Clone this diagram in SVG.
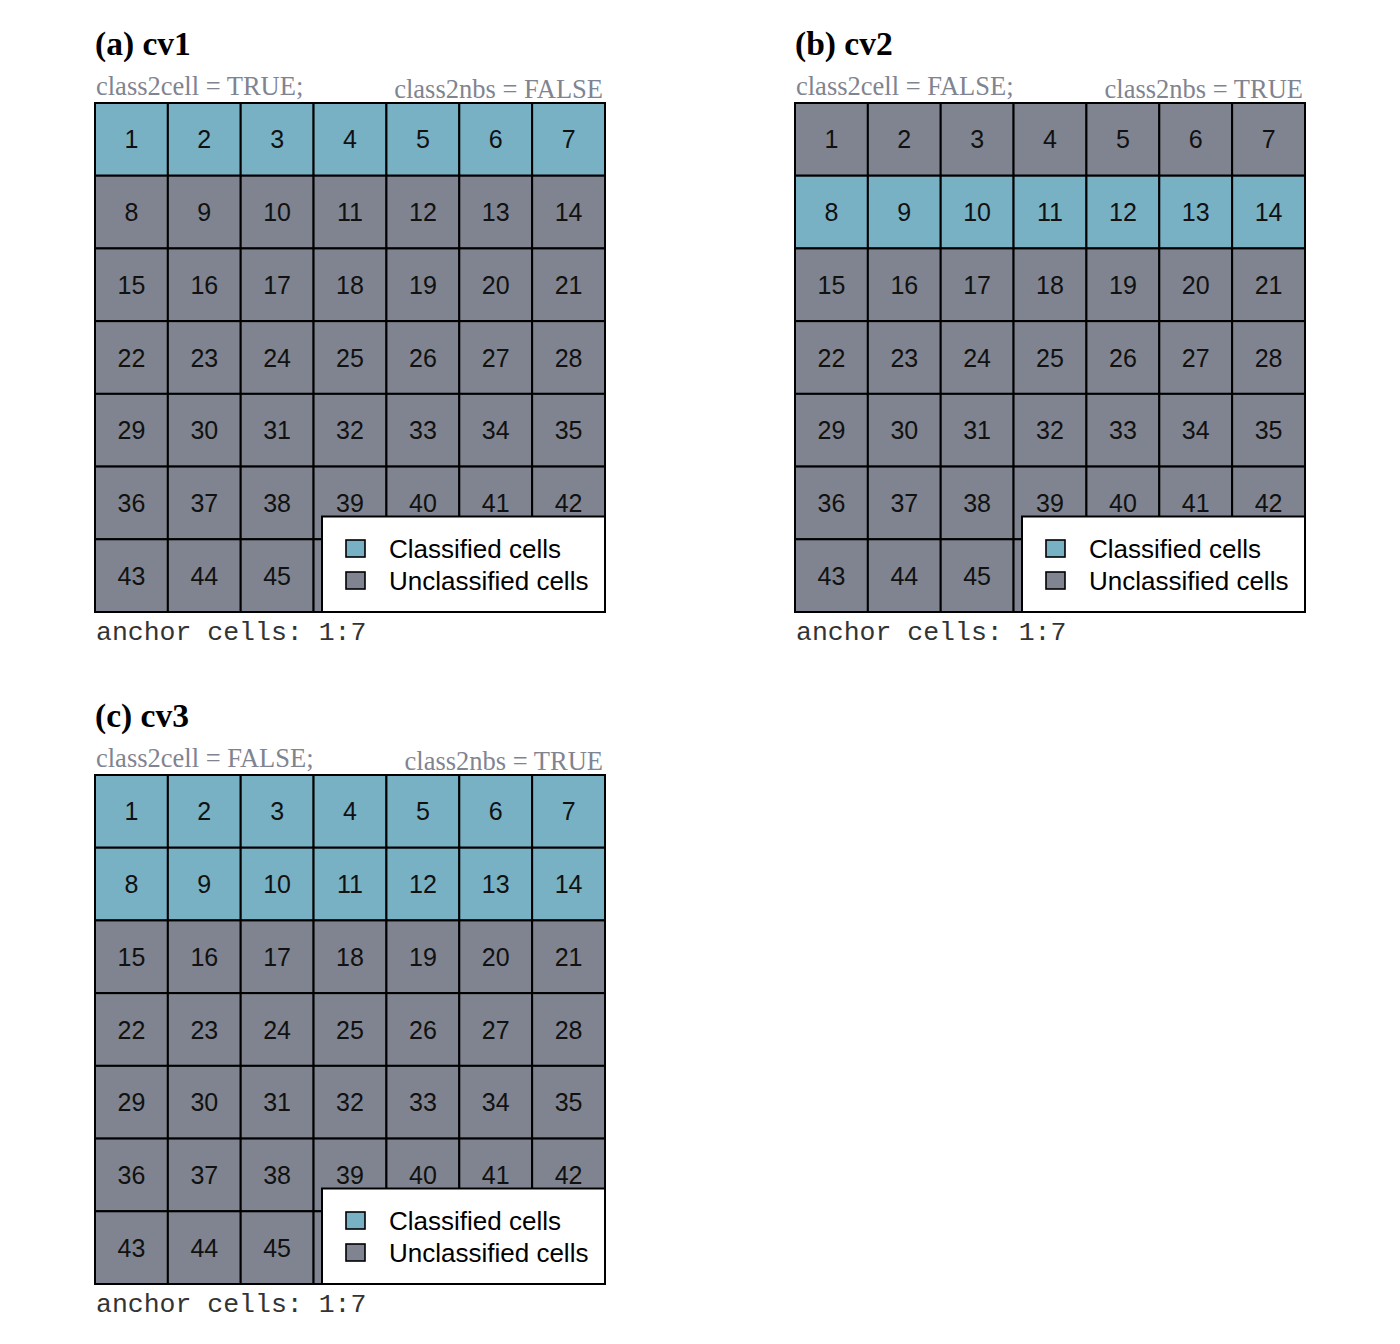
<svg xmlns="http://www.w3.org/2000/svg" xmlns:xlink="http://www.w3.org/1999/xlink" width="1400" height="1344" viewBox="0 0 1400 1344">
<style>
.title{font-family:"Liberation Serif","Times New Roman",serif;font-weight:bold;font-size:33.5px;fill:#000}
.sub{font-family:"Liberation Serif","Times New Roman",serif;font-size:26.5px;fill:#7f8490}
.b{fill:#78b0c4;stroke:#000;stroke-width:2}
.g{fill:#7f8490;stroke:#000;stroke-width:2}
.n{font-family:"Liberation Sans",Arial,sans-serif;font-size:25px;fill:#111;text-anchor:middle}
.leg{fill:#fff;stroke:#000;stroke-width:2}
.lb{fill:#78b0c4;stroke:#000;stroke-width:1.6}
.lg{fill:#7f8490;stroke:#000;stroke-width:1.6}
.lt{font-family:"Liberation Sans",Arial,sans-serif;font-size:26px;fill:#000}
.mono{font-family:"Liberation Mono","Courier New",monospace;font-size:26.5px;fill:#333}
</style>
<defs>
<g id="cols">
<rect x="95" width="72.86" height="72.71"/><rect x="167.86" width="72.86" height="72.71"/><rect x="240.71" width="72.86" height="72.71"/><rect x="313.57" width="72.86" height="72.71"/><rect x="386.43" width="72.86" height="72.71"/><rect x="459.29" width="72.86" height="72.71"/><rect x="532.14" width="72.86" height="72.71"/>
</g>
<g id="nums">
<text class="n" x="131.4" y="221.1">8</text><text class="n" x="204.3" y="221.1">9</text><text class="n" x="277.1" y="221.1">10</text><text class="n" x="350" y="221.1">11</text><text class="n" x="422.9" y="221.1">12</text><text class="n" x="495.7" y="221.1">13</text><text class="n" x="568.6" y="221.1">14</text>
<text class="n" x="131.4" y="293.8">15</text><text class="n" x="204.3" y="293.8">16</text><text class="n" x="277.1" y="293.8">17</text><text class="n" x="350" y="293.8">18</text><text class="n" x="422.9" y="293.8">19</text><text class="n" x="495.7" y="293.8">20</text><text class="n" x="568.6" y="293.8">21</text>
<text class="n" x="131.4" y="366.5">22</text><text class="n" x="204.3" y="366.5">23</text><text class="n" x="277.1" y="366.5">24</text><text class="n" x="350" y="366.5">25</text><text class="n" x="422.9" y="366.5">26</text><text class="n" x="495.7" y="366.5">27</text><text class="n" x="568.6" y="366.5">28</text>
<text class="n" x="131.4" y="439.2">29</text><text class="n" x="204.3" y="439.2">30</text><text class="n" x="277.1" y="439.2">31</text><text class="n" x="350" y="439.2">32</text><text class="n" x="422.9" y="439.2">33</text><text class="n" x="495.7" y="439.2">34</text><text class="n" x="568.6" y="439.2">35</text>
<text class="n" x="131.4" y="511.9">36</text><text class="n" x="204.3" y="511.9">37</text><text class="n" x="277.1" y="511.9">38</text><text class="n" x="350" y="511.9">39</text><text class="n" x="422.9" y="511.9">40</text><text class="n" x="495.7" y="511.9">41</text><text class="n" x="568.6" y="511.9">42</text>
<text class="n" x="131.4" y="584.6">43</text><text class="n" x="204.3" y="584.6">44</text><text class="n" x="277.1" y="584.6">45</text>
</g>
<g id="legend">
<rect class="leg" x="322" y="516.5" width="283" height="95.5"/>
<rect class="lb" x="346" y="540" width="19" height="17"/>
<rect class="lg" x="346" y="572" width="19" height="17"/>
<text class="lt" x="389" y="558">Classified cells</text>
<text class="lt" x="389" y="590">Unclassified cells</text>
</g>
</defs>

<g id="panel-a">
<text class="title" x="95" y="55">(a) cv1</text>
<text class="sub" x="96" y="95">class2cell = TRUE;</text>
<text class="sub" x="603" y="98" text-anchor="end">class2nbs = FALSE</text>
<g id="a-grid">
<use xlink:href="#cols" href="#cols" class="b" y="103"/>
<use xlink:href="#cols" href="#cols" class="g" y="175.71"/>
<use xlink:href="#cols" href="#cols" class="g" y="248.43"/>
<use xlink:href="#cols" href="#cols" class="g" y="321.14"/>
<use xlink:href="#cols" href="#cols" class="g" y="393.86"/>
<use xlink:href="#cols" href="#cols" class="g" y="466.57"/>
<use xlink:href="#cols" href="#cols" class="g" y="539.29"/>
</g>
<g id="a-numbers">
<text class="n" x="131.4" y="148.4">1</text><text class="n" x="204.3" y="148.4">2</text><text class="n" x="277.1" y="148.4">3</text><text class="n" x="350" y="148.4">4</text><text class="n" x="422.9" y="148.4">5</text><text class="n" x="495.7" y="148.4">6</text><text class="n" x="568.6" y="148.4">7</text>
<use xlink:href="#nums" href="#nums"/>
</g>
<use id="a-legend" xlink:href="#legend" href="#legend"/>
<text class="mono" x="96" y="640">anchor cells: 1:7</text>
</g>

<g id="panel-b" transform="translate(700,0)">
<text class="title" x="95" y="55">(b) cv2</text>
<text class="sub" x="96" y="95">class2cell = FALSE;</text>
<text class="sub" x="603" y="98" text-anchor="end">class2nbs = TRUE</text>
<g id="b-grid">
<use xlink:href="#cols" href="#cols" class="g" y="103"/>
<use xlink:href="#cols" href="#cols" class="b" y="175.71"/>
<use xlink:href="#cols" href="#cols" class="g" y="248.43"/>
<use xlink:href="#cols" href="#cols" class="g" y="321.14"/>
<use xlink:href="#cols" href="#cols" class="g" y="393.86"/>
<use xlink:href="#cols" href="#cols" class="g" y="466.57"/>
<use xlink:href="#cols" href="#cols" class="g" y="539.29"/>
</g>
<g id="b-numbers">
<text class="n" x="131.4" y="148.4">1</text><text class="n" x="204.3" y="148.4">2</text><text class="n" x="277.1" y="148.4">3</text><text class="n" x="350" y="148.4">4</text><text class="n" x="422.9" y="148.4">5</text><text class="n" x="495.7" y="148.4">6</text><text class="n" x="568.6" y="148.4">7</text>
<use xlink:href="#nums" href="#nums"/>
</g>
<use id="b-legend" xlink:href="#legend" href="#legend"/>
<text class="mono" x="96" y="640">anchor cells: 1:7</text>
</g>

<g id="panel-c" transform="translate(0,672)">
<text class="title" x="95" y="55">(c) cv3</text>
<text class="sub" x="96" y="95">class2cell = FALSE;</text>
<text class="sub" x="603" y="98" text-anchor="end">class2nbs = TRUE</text>
<g id="c-grid">
<use xlink:href="#cols" href="#cols" class="b" y="103"/>
<use xlink:href="#cols" href="#cols" class="b" y="175.71"/>
<use xlink:href="#cols" href="#cols" class="g" y="248.43"/>
<use xlink:href="#cols" href="#cols" class="g" y="321.14"/>
<use xlink:href="#cols" href="#cols" class="g" y="393.86"/>
<use xlink:href="#cols" href="#cols" class="g" y="466.57"/>
<use xlink:href="#cols" href="#cols" class="g" y="539.29"/>
</g>
<g id="c-numbers">
<text class="n" x="131.4" y="148.4">1</text><text class="n" x="204.3" y="148.4">2</text><text class="n" x="277.1" y="148.4">3</text><text class="n" x="350" y="148.4">4</text><text class="n" x="422.9" y="148.4">5</text><text class="n" x="495.7" y="148.4">6</text><text class="n" x="568.6" y="148.4">7</text>
<use xlink:href="#nums" href="#nums"/>
</g>
<use id="c-legend" xlink:href="#legend" href="#legend"/>
<text class="mono" x="96" y="640">anchor cells: 1:7</text>
</g>
</svg>
